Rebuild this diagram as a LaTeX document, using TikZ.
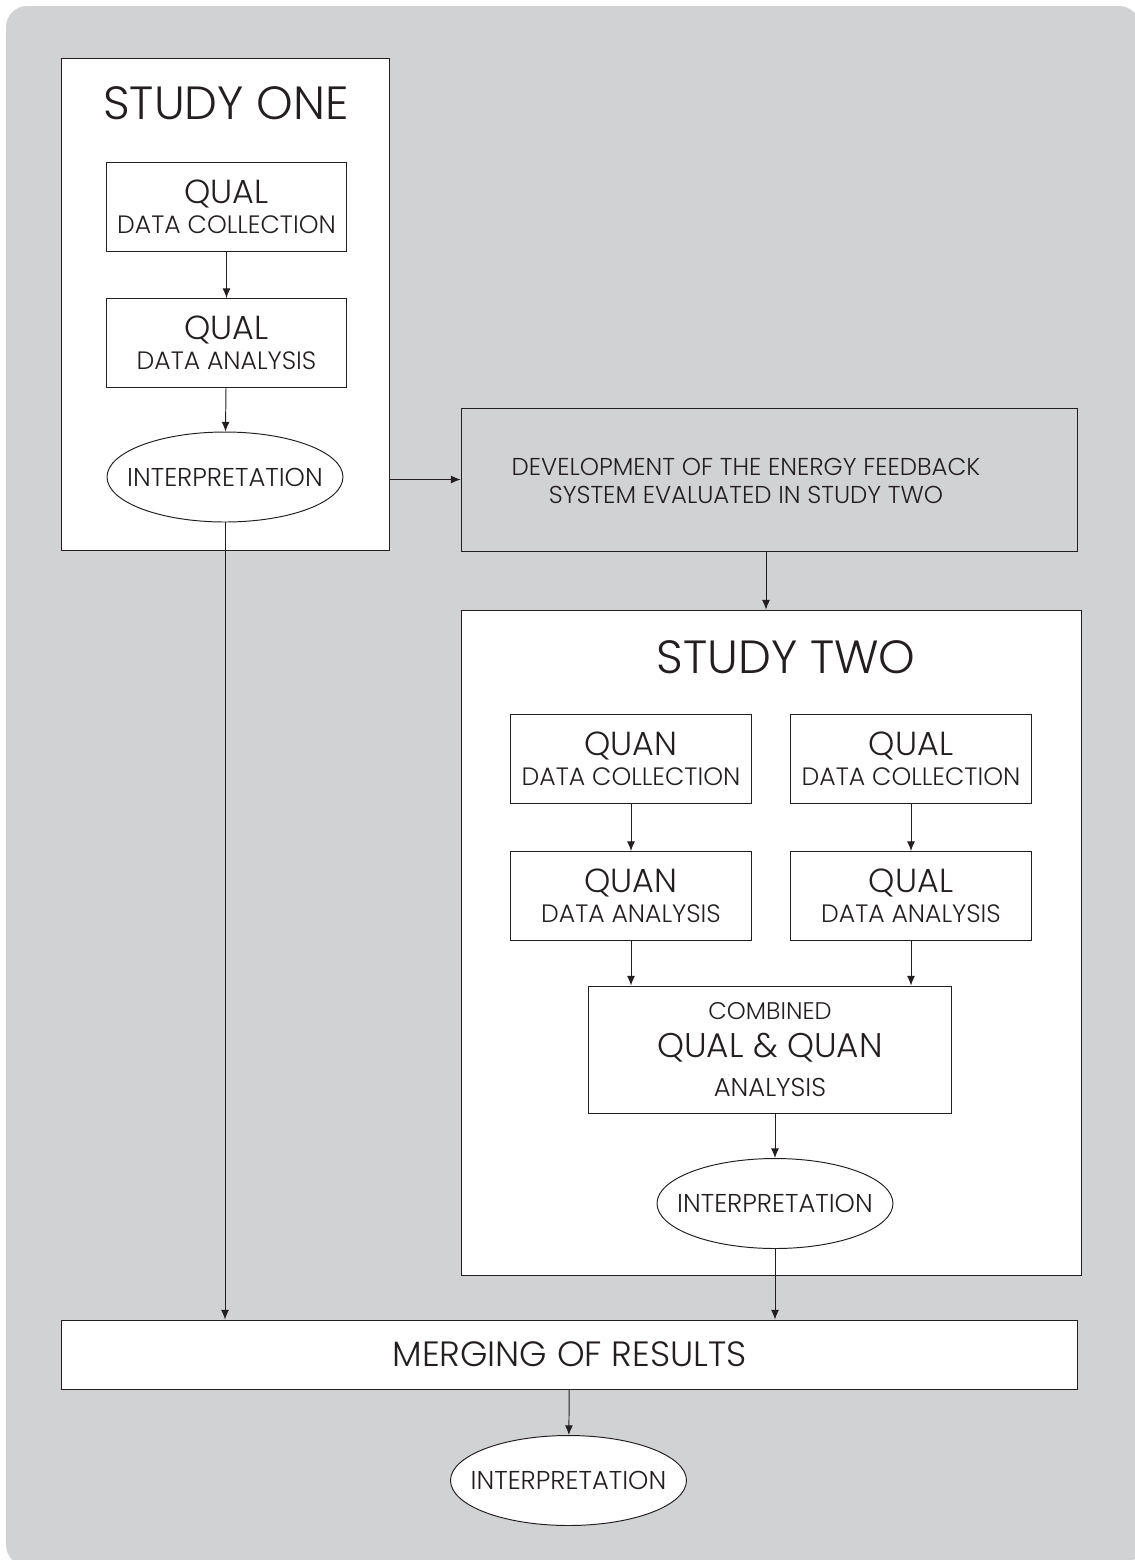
\documentclass[tikz,border=0pt]{standalone}
\usepackage{fontspec}
\setmainfont{Poppins}[UprightFont=* Light]
\usetikzlibrary{arrows.meta, positioning, shapes.geometric}
\definecolor{panelgrey}{HTML}{D1D2D4}
\definecolor{ink}{HTML}{231F20}
\newcommand{\headsz}{\fontsize{19}{17}\selectfont}
\newcommand{\titlesz}{\fontsize{26.5}{28}\selectfont}

\begin{document}
\begin{tikzpicture}[x=0.02cm, y=-0.02cm, >={Latex[length=5.5pt, width=4.5pt]},
    line width=0.55pt, every node/.style={text=ink},
    frame/.style={draw=ink, fill=white, inner sep=0pt},
    stepbox/.style={draw=ink, fill=white, align=center, inner sep=0pt,
      minimum width=4.82cm, minimum height=1.78cm, font=\fontsize{14.3}{17}\selectfont},
    interp/.style={draw=ink, fill=white, ellipse, inner ysep=0pt, inner xsep=-9pt,
      minimum width=4.72cm, minimum height=1.8cm, font=\fontsize{14.7}{15}\selectfont},
    link/.style={->, draw=ink}]
  \useasboundingbox (0,0) rectangle (1134,1560);
  % grey panel
  \fill[panelgrey, rounded corners=12pt] (6,6) rectangle (1140,1566);

  % study one
  \node[frame, minimum width=6.58cm, minimum height=9.86cm] (one) at (225.5,304.5) {};
  \node (oneTitle) at (226,103) {\titlesz STUDY ONE};
  \node[stepbox] (oneCol) at (226.5,206.5) {{\headsz QUAL}\\DATA COLLECTION};
  \node[stepbox] (oneAna) at (226.5,343) {{\headsz QUAL}\\DATA ANALYSIS};
  \node[interp] (oneInt) at (225,477) {INTERPRETATION};

  % development
  \node[draw=ink, fill=panelgrey, minimum width=12.34cm, minimum height=2.86cm] (dev) at (769.5,479.5) {};
  \node[align=center, font=\fontsize{13.9}{16}\selectfont] (devText) at (746,481)
    {DEVELOPMENT OF THE ENERGY FEEDBACK\\SYSTEM EVALUATED IN STUDY TWO};

  % study two
  \node[frame, minimum width=12.42cm, minimum height=13.32cm] (two) at (771.5,943) {};
  \node (twoTitle) at (786,657) {\titlesz STUDY TWO};
  \node[stepbox] (quanCol) at (631,759) {{\headsz QUAN}\\DATA COLLECTION};
  \node[stepbox] (qualCol) at (911,759) {{\headsz QUAL}\\DATA COLLECTION};
  \node[stepbox] (quanAna) at (631,896) {{\headsz QUAN}\\DATA ANALYSIS};
  \node[stepbox] (qualAna) at (911,896) {{\headsz QUAL}\\DATA ANALYSIS};
  \node[stepbox, minimum width=7.28cm, minimum height=2.54cm, font=\fontsize{13.7}{22}\selectfont] (comb) at (770,1049.5)
    {COMBINED\\{\fontsize{19.5}{22}\selectfont QUAL \& QUAN}\\{\fontsize{14.7}{22}\selectfont ANALYSIS}};
  \node[interp] (twoInt) at (775,1203.5) {INTERPRETATION};

  % merging
  \node[frame, minimum width=20.34cm, minimum height=1.38cm, font=\fontsize{20}{22}\selectfont] (merge) at (569.5,1354.5) {MERGING OF RESULTS};
  \node[interp] (finalInt) at (568.5,1480.5) {INTERPRETATION};

  % connectors
  \draw[link] (oneCol) -- (oneAna);
  \draw[link] (oneAna) -- (oneInt);
  \draw[link] (oneInt.south) -- (oneInt.south |- merge.north);
  \draw[link] (one.east |- dev.west) -- (dev.west);
  \draw[link] ([xshift=-3.5*0.02cm]dev.south) -- ([xshift=-3.5*0.02cm]dev.south |- two.north);
  \draw[link] (quanCol) -- (quanAna);
  \draw[link] (qualCol) -- (qualAna);
  \draw[link] (quanAna.south) -- (quanAna.south |- comb.north);
  \draw[link] (qualAna.south) -- (qualAna.south |- comb.north);
  \draw[link] (twoInt.north |- comb.south) -- (twoInt.north);
  \draw[link] (twoInt.south) -- (twoInt.south |- merge.north);
  \draw[link] (merge) -- (finalInt);
\end{tikzpicture}
\end{document}
